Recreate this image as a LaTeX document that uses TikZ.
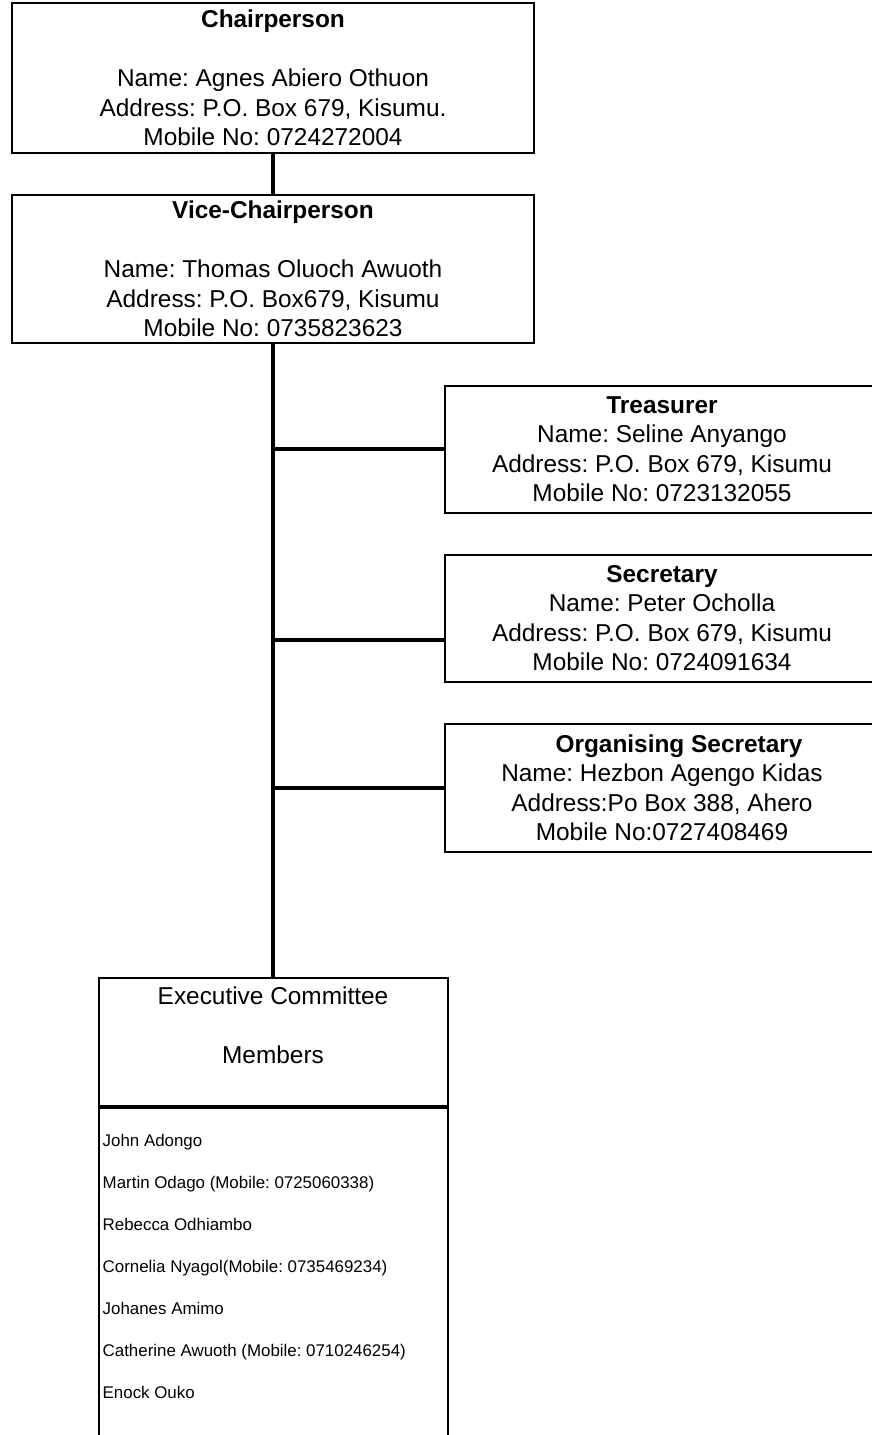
\documentclass[tikz,border=0pt]{standalone}
\usepackage{fontspec}
\setmainfont{Liberation Sans}
\frenchspacing
\usetikzlibrary{positioning, calc}

\begin{document}
\begin{tikzpicture}[x=1pt, y=-1pt,
  office/.style={draw=black, line width=2pt, inner sep=0pt, align=center, font=\fontsize{24.4pt}{29.5pt}\selectfont},
  topbox/.style={office, minimum width=522pt, minimum height=150pt},
  sidebox/.style={office, minimum width=435pt, minimum height=127pt},
  trunk/.style={line width=4.6pt},
  member/.style={anchor=base west, inner sep=0pt, font=\fontsize{16.9pt}{20pt}\selectfont}]
  \useasboundingbox (0,0) rectangle (872,1435);

  % Chair and vice-chair
  \node[topbox] (chair) at (273,78) {\textbf{Chairperson}\\[29.5pt]Name: Agnes Abiero Othuon\\Address: P.O. Box 679, Kisumu.\\Mobile No: 0724272004};
  \node[topbox, minimum height=148pt] (vice) at (273,269) {\textbf{Vice-Chairperson}\\[29.5pt]Name: Thomas Oluoch Awuoth\\Address: P.O. Box679, Kisumu\\Mobile No: 0735823623};

  % Other office bearers
  \node[sidebox] (treasurer) at (662,449) {\textbf{Treasurer}\\Name: Seline Anyango\\Address: P.O. Box 679, Kisumu\\Mobile No: 0723132055};
  \node[sidebox] (secretary) at (662,618) {\textbf{Secretary}\\Name: Peter Ocholla\\Address: P.O. Box 679, Kisumu\\Mobile No: 0724091634};
  \node[sidebox, minimum height=128pt] (orgsec) at (662,788) {\hspace*{34pt}\textbf{Organising Secretary}\\Name: Hezbon Agengo Kidas\\Address:Po Box 388, Ahero\\Mobile No:0727408469};

  % Executive committee
  \node[office, minimum width=349pt, minimum height=128pt] (execHead) at (273,1042) {Executive Committee\\[29.5pt]Members\rule[-34pt]{0pt}{34pt}};
  \node[draw, line width=2pt, minimum width=349pt, minimum height=360pt, inner sep=0pt, anchor=north] (execList) at (execHead.south) {};
  \foreach \who [count=\i] in {{John Adongo}, {Martin Odago (Mobile: 0725060338)}, {Rebecca Odhiambo}, {Cornelia Nyagol(Mobile: 0735469234)}, {Johanes Amimo}, {Catherine Awuoth (Mobile: 0710246254)}, {Enock Ouko}}
    \node[member] (member\i) at ($(execList.north west)+(5,39+42*\i-42)$) {\who};

  % Lines of authority
  \draw[trunk] (chair.south) -- (vice.north);
  \draw[trunk] (vice.south) -- (execHead.north);
  \draw[trunk] (vice.south |- treasurer.west) -- (treasurer.west);
  \coordinate (secTap) at ($(secretary.west)+(0,22)$);
  \draw[trunk] (vice.south |- secTap) -- (secTap);
  \draw[trunk] (vice.south |- orgsec.west) -- (orgsec.west);
\end{tikzpicture}
\end{document}
